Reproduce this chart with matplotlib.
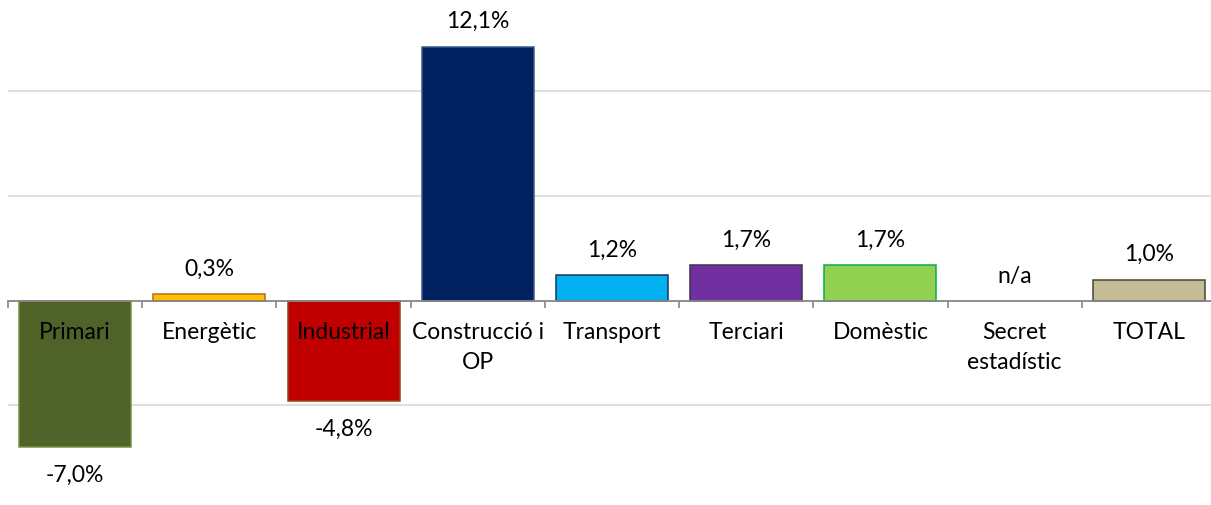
import matplotlib.pyplot as plt
import numpy as np

sectors = ['Primari', 'Energètic', 'Industrial', 'Construcció i\nOP', 'Transport',
           'Terciari', 'Domèstic', 'Secret\nestadístic', 'TOTAL']
values = [-7.0, 0.3, -4.8, 12.1, 1.2, 1.7, 1.7, None, 1.0]
faces = ['#4F6228', '#FFC000', '#C00000', '#002060', '#00B0F0',
         '#7030A0', '#92D050', '#FFFFFF', '#C4BD97']
edges = ['#77933C', '#C0642A', '#984807', '#385D8A', '#17375E',
         '#403152', '#00B050', '#FFFFFF', '#4A452A']

plt.rcParams['font.family'] = ['Lato', 'DejaVu Sans']
fs = 16.5

fig = plt.figure(figsize=(12.11, 5.05), dpi=100)
ax = fig.add_axes([8 / 1211, 0, 1208 / 1211, 1])

x = np.arange(len(sectors))
h = [v if v is not None else 0 for v in values]
ax.bar(x, h, width=0.835, color=faces, edgecolor=edges, linewidth=1.1, zorder=3)

ax.set_xlim(-0.5, len(sectors) - 0.5)
ax.set_ylim(-9.75, 14.33)

for y in [-5, 5, 10]:
    ax.axhline(y, color='#D9D9D9', linewidth=1.2, zorder=1)

for s in ['top', 'right', 'left']:
    ax.spines[s].set_visible(False)
ax.spines['bottom'].set_position(('data', 0))
ax.spines['bottom'].set_color('#868686')
ax.spines['bottom'].set_linewidth(1.3)
ax.spines['bottom'].set_zorder(4)
ax.set_yticks([])

ax.set_xticks([])
ax.set_xticks(np.arange(-0.5, len(sectors), 1), minor=True)
ax.tick_params(axis='x', which='minor', length=5, width=1.2, color='#868686', direction='out')

# category names sit just under the zero line, on top of the bars
for i, name in enumerate(sectors):
    ax.annotate(name, (i, 0), xytext=(0, -15.5), textcoords='offset points',
                ha='center', va='top', fontsize=fs, linespacing=1.55, zorder=6)

for i, v in enumerate(values):
    if v is None:
        ax.annotate('n/a', (i, 0), xytext=(0, 17), textcoords='offset points',
                    ha='center', va='center', fontsize=fs)
    elif v >= 0:
        ax.annotate(f'{v:.1f}%'.replace('.', ','), (i, v), xytext=(0, 18),
                    textcoords='offset points', ha='center', va='center', fontsize=fs)
    else:
        ax.annotate(f'{v:.1f}%'.replace('.', ','), (i, v), xytext=(0, -20),
                    textcoords='offset points', ha='center', va='center', fontsize=fs)

fig.savefig('out.png', dpi=100, facecolor='white')
